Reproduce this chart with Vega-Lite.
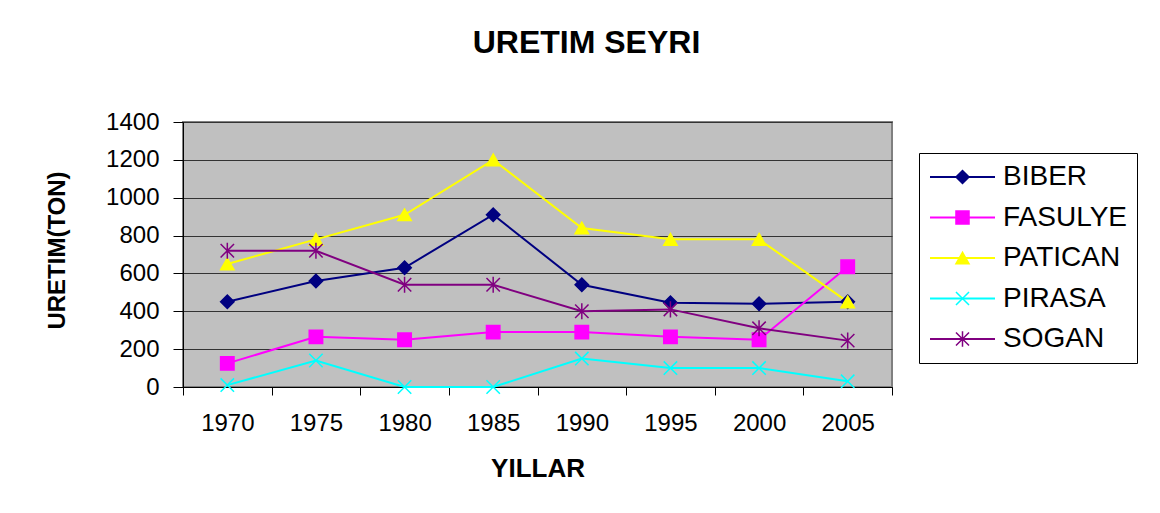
{
  "$schema": "https://vega.github.io/schema/vega-lite/v6.json",
  "width": 709,
  "height": 265,
  "autosize": {"type": "none"},
  "padding": {"left": 183, "top": 122, "right": 268, "bottom": 126},
  "background": "white",
  "title": {"text": "URETIM SEYRI", "fontSize": 32, "font": "Liberation Sans", "fontWeight": "bold", "color": "black", "frame": "group", "anchor": "middle", "dx": 49, "offset": 50},
  "config": {"view": {"fill": "#C0C0C0", "stroke": "#808080", "strokeWidth": 2}, "font": "Liberation Sans"},
  "data": {"values": [
    {"year": 1970, "crop": "BIBER", "value": 450},
    {"year": 1975, "crop": "BIBER", "value": 560},
    {"year": 1980, "crop": "BIBER", "value": 630},
    {"year": 1985, "crop": "BIBER", "value": 910},
    {"year": 1990, "crop": "BIBER", "value": 540},
    {"year": 1995, "crop": "BIBER", "value": 445},
    {"year": 2000, "crop": "BIBER", "value": 440},
    {"year": 2005, "crop": "BIBER", "value": 450},
    {"year": 1970, "crop": "FASULYE", "value": 125},
    {"year": 1975, "crop": "FASULYE", "value": 265},
    {"year": 1980, "crop": "FASULYE", "value": 250},
    {"year": 1985, "crop": "FASULYE", "value": 290},
    {"year": 1990, "crop": "FASULYE", "value": 290},
    {"year": 1995, "crop": "FASULYE", "value": 265},
    {"year": 2000, "crop": "FASULYE", "value": 250},
    {"year": 2005, "crop": "FASULYE", "value": 635},
    {"year": 1970, "crop": "PATICAN", "value": 650},
    {"year": 1975, "crop": "PATICAN", "value": 780},
    {"year": 1980, "crop": "PATICAN", "value": 910},
    {"year": 1985, "crop": "PATICAN", "value": 1200},
    {"year": 1990, "crop": "PATICAN", "value": 840},
    {"year": 1995, "crop": "PATICAN", "value": 780},
    {"year": 2000, "crop": "PATICAN", "value": 780},
    {"year": 2005, "crop": "PATICAN", "value": 450},
    {"year": 1970, "crop": "PIRASA", "value": 10},
    {"year": 1975, "crop": "PIRASA", "value": 140},
    {"year": 1980, "crop": "PIRASA", "value": 0},
    {"year": 1985, "crop": "PIRASA", "value": 0},
    {"year": 1990, "crop": "PIRASA", "value": 150},
    {"year": 1995, "crop": "PIRASA", "value": 100},
    {"year": 2000, "crop": "PIRASA", "value": 100},
    {"year": 2005, "crop": "PIRASA", "value": 30},
    {"year": 1970, "crop": "SOGAN", "value": 720},
    {"year": 1975, "crop": "SOGAN", "value": 720},
    {"year": 1980, "crop": "SOGAN", "value": 540},
    {"year": 1985, "crop": "SOGAN", "value": 540},
    {"year": 1990, "crop": "SOGAN", "value": 400},
    {"year": 1995, "crop": "SOGAN", "value": 410},
    {"year": 2000, "crop": "SOGAN", "value": 310},
    {"year": 2005, "crop": "SOGAN", "value": 245}
  ]},
  "encoding": {
    "x": {"field": "year", "type": "ordinal",
      "scale": {"type": "band", "paddingInner": 0, "paddingOuter": 0},
      "axis": {"title": "YILLAR", "labelAngle": 0, "tickBand": "extent", "tickSize": 8, "labelFontSize": 24, "labelPadding": 16, "labelColor": "black", "titleFontSize": 26, "titleFontWeight": "bold", "titleColor": "black", "titleY": 81, "titleBaseline": "middle", "domainColor": "black", "tickColor": "black", "grid": false}},
    "y": {"field": "value", "type": "quantitative",
      "scale": {"domain": [0, 1400], "nice": false},
      "axis": {"title": "URETIM(TON)", "values": [0, 200, 400, 600, 800, 1000, 1200, 1400], "format": "d", "tickSize": 10, "labelFontSize": 24, "labelPadding": 14, "labelColor": "black", "gridColor": "#333333", "gridWidth": 1, "domainColor": "black", "tickColor": "black", "titleFontSize": 24, "titleFontWeight": "bold", "titleColor": "black", "titleAngle": -90, "titleX": -126, "titleY": 128, "titleBaseline": "middle", "titleAlign": "center"}}
  },
  "layer": [
    {
      "mark": {"type": "line", "strokeWidth": 2},
      "encoding": {
        "color": {"field": "crop", "type": "nominal",
          "scale": {"range": ["#000080", "#FF00FF", "#FFFF00", "#00FFFF", "#800080"]},
          "legend": {"orient": "none", "legendX": 736, "legendY": 31, "title": null, "padding": 10, "strokeColor": "black", "fillColor": "white", "labelFontSize": 28, "labelColor": "black", "rowPadding": 12.5, "symbolType": "M-5,0L5,0", "symbolSize": 169, "symbolStrokeWidth": 2, "symbolOffset": 19.5, "labelOffset": 26.5}}
      }
    },
    {
      "transform": [{"filter": "datum.value >= 0"}],
      "mark": {"type": "point", "filled": true, "size": 180, "opacity": 1, "strokeWidth": 1.5},
      "encoding": {
        "fill": {"field": "crop", "type": "nominal",
          "scale": {"range": ["#000080", "#FF00FF", "#FFFF00", "#00FFFF", "#800080"]},
          "legend": {"orient": "none", "legendX": 736, "legendY": 31, "title": null, "padding": 10, "labelFontSize": 28, "labelExpr": "''", "rowPadding": 12.5, "symbolSize": 170, "symbolStrokeWidth": 1.5, "symbolOffset": 19.5}},
        "stroke": {"field": "crop", "type": "nominal",
          "scale": {"range": ["#000080", "#FF00FF", "#FFFF00", "#00FFFF", "#800080"]},
          "legend": {"orient": "none", "legendX": 736, "legendY": 31, "title": null, "padding": 10, "labelFontSize": 28, "labelExpr": "''", "rowPadding": 12.5, "symbolSize": 170, "symbolStrokeWidth": 1.5, "symbolOffset": 19.5}},
        "shape": {"field": "crop", "type": "nominal",
          "scale": {"range": ["diamond", "square", "triangle-up", "M-1,-1L1,1M1,-1L-1,1", "M-1,-1L1,1M1,-1L-1,1M0,-1.2L0,1.2"]},
          "legend": {"orient": "none", "legendX": 736, "legendY": 31, "title": null, "padding": 10, "labelFontSize": 28, "labelExpr": "''", "rowPadding": 12.5, "symbolSize": 170, "symbolStrokeWidth": 1.5, "symbolOffset": 19.5}}
      }
    }
  ]
}
